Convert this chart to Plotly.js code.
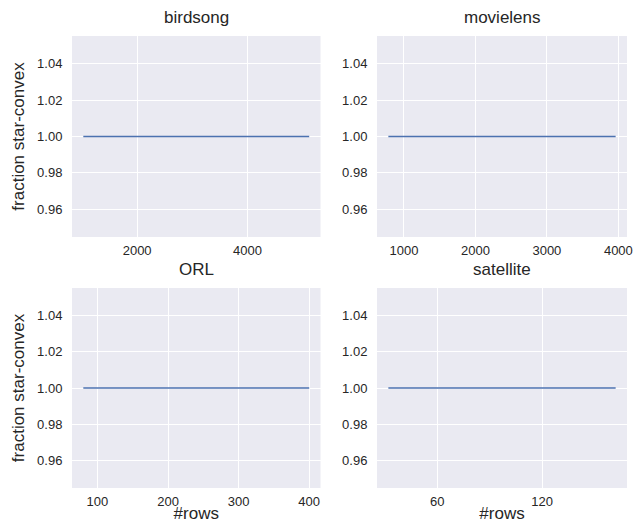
<!DOCTYPE html>
<html><head><meta charset="utf-8">
<script src="https://cdn.plot.ly/plotly-3.0.1.min.js"></script>
<style>html,body{margin:0;padding:0;background:#fff}</style>
</head><body><div id="chart" style="width:637px;height:523px"></div>
<script>
const titles = ["birdsong", "movielens", "ORL", "satellite"];
const birdsongRows = [1024, 2048, 3072, 4096, 5120];
const birdsongFrac = [1, 1, 1, 1, 1];
const movielensRows = [782, 1577, 2372, 3167, 3962];
const movielensFrac = [1, 1, 1, 1, 1];
const orlRows = [80, 160, 240, 320, 400];
const orlFrac = [1, 1, 1, 1, 1];
const satelliteRows = [32, 64, 96, 128, 162];
const satelliteFrac = [1, 1, 1, 1, 1];
const yTicks = [0.96, 0.98, 1.00, 1.02, 1.04];
const yTickText = ["0.96", "0.98", "1.00", "1.02", "1.04"];

const W = 637, H = 523;
const font = "Liberation Sans, Arial, sans-serif";
const lineColor = "#4c72b0";
const series = [[birdsongRows, birdsongFrac], [movielensRows, movielensFrac], [orlRows, orlFrac], [satelliteRows, satelliteFrac]];
const traces = series.map((s, i) => ({
  x: s[0], y: s[1], type: "scatter", mode: "lines",
  line: {color: lineColor, width: 1.3},
  xaxis: i === 0 ? "x" : "x" + (i + 1),
  yaxis: i === 0 ? "y" : "y" + (i + 1),
  showlegend: false, hoverinfo: "none"
}));

const px = (a, b) => [a / W, b / W];
const py = (top, bottom) => [1 - bottom / H, 1 - top / H];
const xdom = [px(72, 320.5), px(377, 627)];
const ydom = [py(36, 237), py(288, 488)];
const xranges = [[819, 5325], [623, 4121], [64, 416], [25.5, 168.5]];
const xticks = [[2000, 4000], [1000, 2000, 3000, 4000], [100, 200, 300, 400], [60, 120]];

const layout = {
  width: W, height: H,
  margin: {l: 0, r: 0, t: 0, b: 0},
  paper_bgcolor: "#ffffff",
  plot_bgcolor: "#eaeaf2",
  font: {family: font, color: "#262626"},
  annotations: []
};
for (let i = 0; i < 4; i++) {
  const col = i % 2, row = Math.floor(i / 2);
  const xk = i === 0 ? "xaxis" : "xaxis" + (i + 1);
  const yk = i === 0 ? "yaxis" : "yaxis" + (i + 1);
  const yref = i === 0 ? "y" : "y" + (i + 1);
  const xref = i === 0 ? "x" : "x" + (i + 1);
  layout[xk] = {
    domain: xdom[col], range: xranges[i], anchor: yref,
    tickvals: xticks[i], ticktext: xticks[i].map(String),
    showgrid: true, gridcolor: "#ffffff", gridwidth: 1,
    zeroline: false, showline: false,
    ticks: "outside", ticklen: 1, tickcolor: "rgba(0,0,0,0)",
    tickfont: {size: 13, family: font, color: "#262626"},
    fixedrange: true
  };
  if (row === 1) {
    layout[xk].title = {text: "#rows", font: {size: 17, family: font, color: "#262626"}, standoff: 0};
  }
  layout[yk] = {
    domain: ydom[row], range: [0.9448, 1.0552], anchor: xref,
    tickvals: yTicks, ticktext: yTickText,
    showgrid: true, gridcolor: "#ffffff", gridwidth: 1,
    zeroline: false, showline: false,
    ticks: "outside", ticklen: 6, tickcolor: "rgba(0,0,0,0)",
    tickfont: {size: 13, family: font, color: "#262626"},
    fixedrange: true
  };
  if (col === 0) {
    layout[yk].title = {text: "fraction star-convex", font: {size: 17, family: font, color: "#262626"}, standoff: 8};
  }
  const xd = xdom[col], yd = ydom[row];
  layout.annotations.push({
    text: titles[i], xref: "paper", yref: "paper",
    x: (xd[0] + xd[1]) / 2, y: yd[1], yshift: 7,
    xanchor: "center", yanchor: "bottom", showarrow: false,
    font: {size: 17, family: font, color: "#262626"}
  });
}
Plotly.newPlot("chart", traces, layout, {displayModeBar: false, staticPlot: true});
</script></body></html>
